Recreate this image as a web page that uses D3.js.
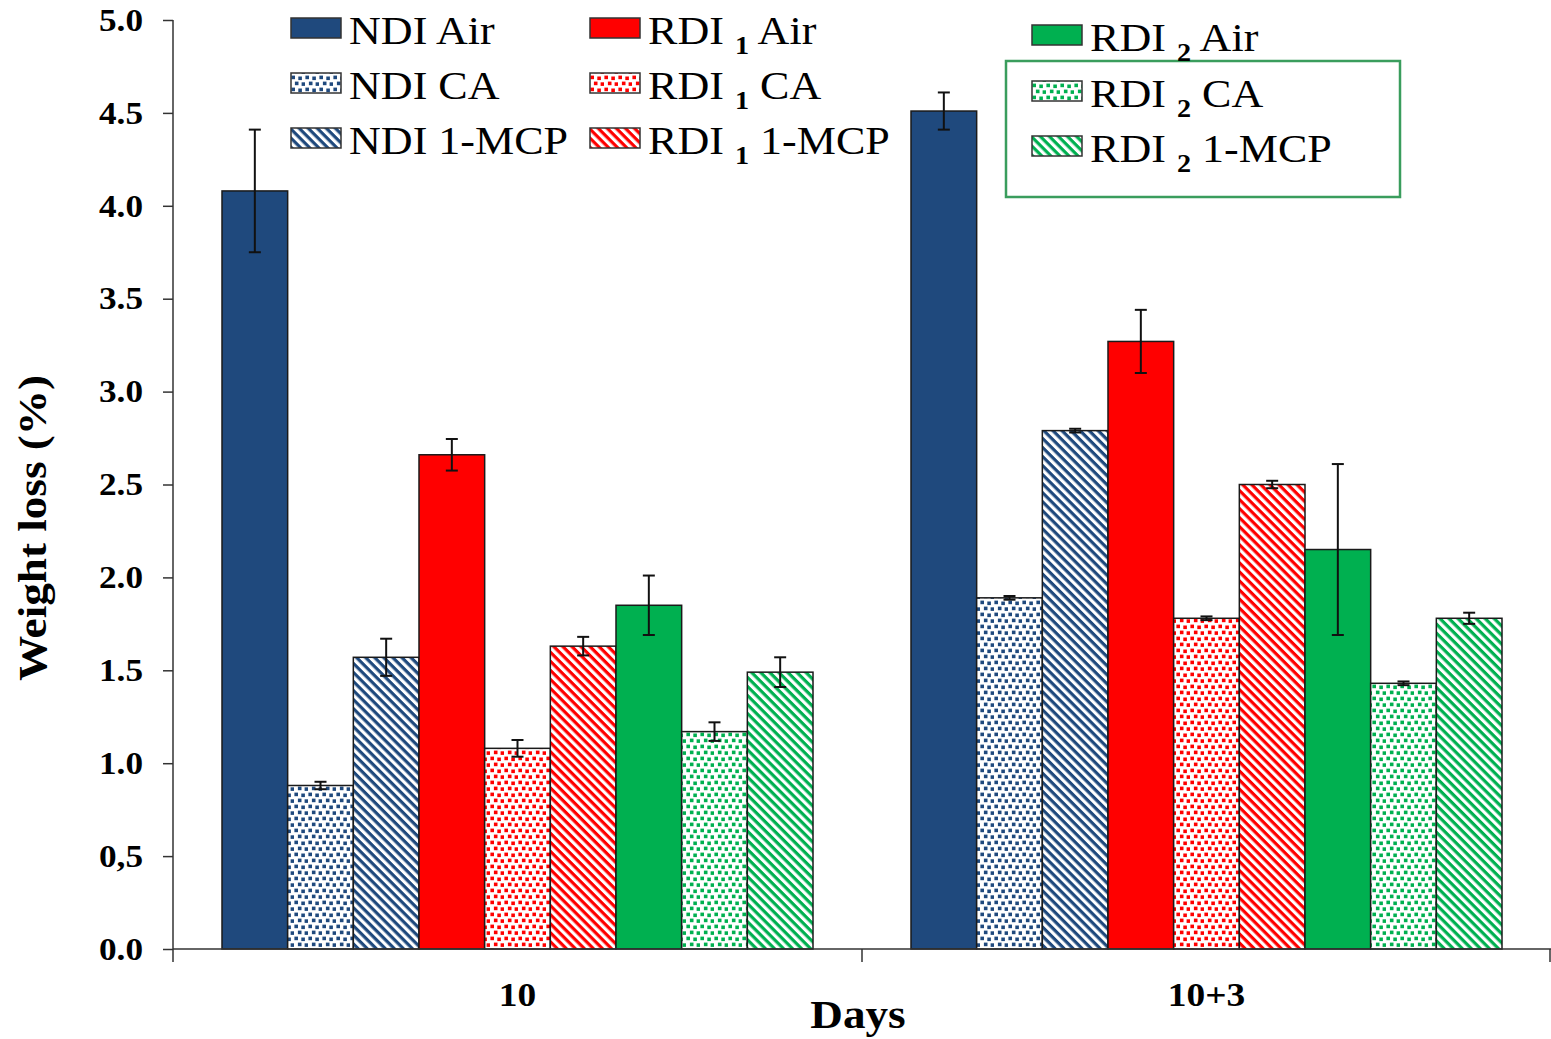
<!DOCTYPE html>
<html>
<head>
<meta charset="utf-8">
<script src="https://cdnjs.cloudflare.com/ajax/libs/d3/7.8.5/d3.min.js"></script>
<style>
  body { margin: 0; background: #fff; }
  text { font-family: "Liberation Serif", "Times New Roman", serif; }
  .axis path, .axis line { stroke: #333; stroke-width: 1.5px; }
  .axis text { font-size: 32px; font-weight: bold; fill: #000; }
</style>
</head>
<body>
<script>
// chart values
var groups = ["10", "10+3"];
var series = ["NDI Air", "NDI CA", "NDI 1-MCP",
              "RDI1 Air", "RDI1 CA", "RDI1 1-MCP",
              "RDI2 Air", "RDI2 CA", "RDI2 1-MCP"];
var values10  = [4.08, 0.88, 1.57, 2.66, 1.08, 1.63, 1.85, 1.17, 1.49];
var values103 = [4.51, 1.89, 2.79, 3.27, 1.78, 2.50, 2.15, 1.43, 1.78];
var errors10  = [0.33, 0.02, 0.10, 0.085, 0.045, 0.05, 0.16, 0.05, 0.08];
var errors103 = [0.10, 0.01, 0.01, 0.17, 0.01, 0.02, 0.46, 0.01, 0.03];
var yTicks = [0, 0.5, 1, 1.5, 2, 2.5, 3, 3.5, 4, 4.5, 5];
var yTickLabels = ["0.0", "0,5", "1.0", "1.5", "2.0", "2.5", "3.0", "3.5", "4.0", "4.5", "5.0"];

var colors = ["#1F497D", "#FF0000", "#00B050"];

var W = 1551, H = 1039;
var mLeft = 173, mRight = 1551, mTop = 20, mBottom = 949;
var stretch = 1.13; // reference text is a bit wider than Liberation Serif

var svg = d3.select("body").append("svg")
    .attr("width", W).attr("height", H);

// patterns: dots and stripes for each colour
var defs = svg.append("defs");
var dotPos = [[0.4,0.6],[7.3,1.5],[3.9,6.6],[10.6,7.3]];
colors.forEach(function(c, i) {
  var dp = defs.append("pattern")
      .attr("id", "dots" + i)
      .attr("patternUnits", "userSpaceOnUse")
      .attr("width", 14).attr("height", 12);
  dp.append("rect").attr("width", 14).attr("height", 12).attr("fill", "#fff");
  dotPos.forEach(function(p) {
    dp.append("rect").attr("x", p[0]).attr("y", p[1])
      .attr("width", 3.6).attr("height", 3.6).attr("fill", c);
  });

  var sp = defs.append("pattern")
      .attr("id", "stripes" + i)
      .attr("patternUnits", "userSpaceOnUse")
      .attr("width", 6.4).attr("height", 6.4)
      .attr("patternTransform", "rotate(45)");
  sp.append("rect").attr("width", 6.4).attr("height", 6.4).attr("fill", "#fff");
  sp.append("rect").attr("width", 6.4).attr("height", 3.2).attr("fill", c);
});

function fillFor(i) {
  var c = Math.floor(i / 3), k = i % 3;
  if (k === 0) return colors[c];
  if (k === 1) return "url(#dots" + c + ")";
  return "url(#stripes" + c + ")";
}

// scales
var x0 = d3.scaleBand().domain(groups).range([mLeft, mRight]).padding(0);
var gap = 49;
var x1 = d3.scaleBand().domain(series).range([gap, x0.bandwidth() - gap]).padding(0);
var y = d3.scaleLinear().domain([0, 5]).range([mBottom, mTop]);

var data = [];
groups.forEach(function(g, gi) {
  var vals = gi === 0 ? values10 : values103;
  var errs = gi === 0 ? errors10 : errors103;
  series.forEach(function(s, si) {
    data.push({group: g, series: s, idx: si, value: vals[si], err: errs[si]});
  });
});

// bars
svg.append("g").selectAll("rect")
  .data(data)
  .enter().append("rect")
    .attr("x", function(d) { return x0(d.group) + x1(d.series); })
    .attr("y", function(d) { return y(d.value); })
    .attr("width", x1.bandwidth())
    .attr("height", function(d) { return mBottom - y(d.value); })
    .attr("fill", function(d) { return fillFor(d.idx); })
    .attr("stroke", "#1a1a1a")
    .attr("stroke-width", 1.5);

// error bars
var eb = svg.append("g").selectAll("g")
  .data(data)
  .enter().append("g")
    .attr("transform", function(d) {
      return "translate(" + (x0(d.group) + x1(d.series) + x1.bandwidth() / 2) + ",0)";
    });
eb.append("line")
  .attr("y1", function(d) { return y(d.value + d.err); })
  .attr("y2", function(d) { return y(d.value - d.err); })
  .attr("stroke", "#111").attr("stroke-width", 2);
eb.append("line")
  .attr("x1", -6).attr("x2", 6)
  .attr("y1", function(d) { return y(d.value + d.err); })
  .attr("y2", function(d) { return y(d.value + d.err); })
  .attr("stroke", "#111").attr("stroke-width", 2);
eb.append("line")
  .attr("x1", -6).attr("x2", 6)
  .attr("y1", function(d) { return y(d.value - d.err); })
  .attr("y2", function(d) { return y(d.value - d.err); })
  .attr("stroke", "#111").attr("stroke-width", 2);

// y axis
var yAxis = d3.axisLeft(y)
    .tickValues(yTicks)
    .tickSize(10)
    .tickFormat(function(d, i) { return yTickLabels[i]; });
svg.append("g")
    .attr("class", "axis")
    .attr("transform", "translate(" + mLeft + ",0)")
    .call(yAxis)
    .call(function(g) {
      g.select(".domain").attr("d", "M0," + mTop + "V" + mBottom);
      g.selectAll(".tick text")
        .attr("x", 0)
        .attr("transform", "translate(-30,0) scale(1.1,1)");
    });

// x axis: ticks at group boundaries, labels at centres
var xb = svg.append("g").attr("class", "axis");
xb.append("line")
  .attr("x1", mLeft).attr("x2", mRight)
  .attr("y1", mBottom).attr("y2", mBottom);
var bounds = groups.map(function(g) { return x0(g); }).concat([mRight - 1]);
xb.selectAll(".xt").data(bounds).enter().append("line")
  .attr("class", "xt")
  .attr("x1", function(d) { return d; }).attr("x2", function(d) { return d; })
  .attr("y1", mBottom).attr("y2", mBottom + 13);
xb.selectAll(".xl").data(groups).enter().append("text")
  .attr("class", "xl")
  .attr("transform", function(d) {
    return "translate(" + (x0(d) + x0.bandwidth() / 2) + ",1006) scale(1.1,1)";
  })
  .attr("text-anchor", "middle")
  .style("font-size", "34px")
  .text(function(d) { return d; });

// axis titles
svg.append("text")
  .attr("transform", "translate(858,1028) scale(" + stretch + ",1)")
  .attr("text-anchor", "middle")
  .style("font-size", "40px").style("font-weight", "bold")
  .text("Days");
svg.append("text")
  .attr("transform", "translate(46,528) rotate(-90) scale(" + stretch + ",1)")
  .attr("text-anchor", "middle")
  .style("font-size", "40px").style("font-weight", "bold")
  .text("Weight loss (%)");

// legend
var legendPos = [
  [291, 44], [291, 99], [291, 154],
  [590, 44], [590, 99], [590, 154],
  [1032, 51], [1032, 107], [1032, 162]
];
svg.append("rect")
  .attr("x", 1006).attr("y", 61)
  .attr("width", 394).attr("height", 136)
  .attr("fill", "none")
  .attr("stroke", "#3A9D5D").attr("stroke-width", 2.5);

var leg = svg.append("g").selectAll("g")
  .data(series)
  .enter().append("g")
    .attr("transform", function(d, i) {
      return "translate(" + legendPos[i][0] + "," + legendPos[i][1] + ")";
    });
leg.append("rect")
  .attr("x", 0).attr("y", -26)
  .attr("width", 50).attr("height", 20)
  .attr("fill", function(d, i) { return fillFor(i); })
  .attr("stroke", "#333").attr("stroke-width", 1.5);
leg.each(function(d, i) {
  var t = d3.select(this).append("text")
    .attr("transform", "translate(58,0) scale(" + stretch + ",1)")
    .style("font-size", "39px");
  var m = d.match(/^(NDI|RDI)(\d?) (.*)$/);
  if (m[2]) {
    t.append("tspan").text(m[1] + " ");
    t.append("tspan").attr("dy", 10).style("font-size", "25px")
      .style("font-weight", "bold").text(m[2]);
    t.append("tspan").attr("dy", -10).text(" " + m[3]);
  } else {
    t.text(d);
  }
});
</script>
</body>
</html>
